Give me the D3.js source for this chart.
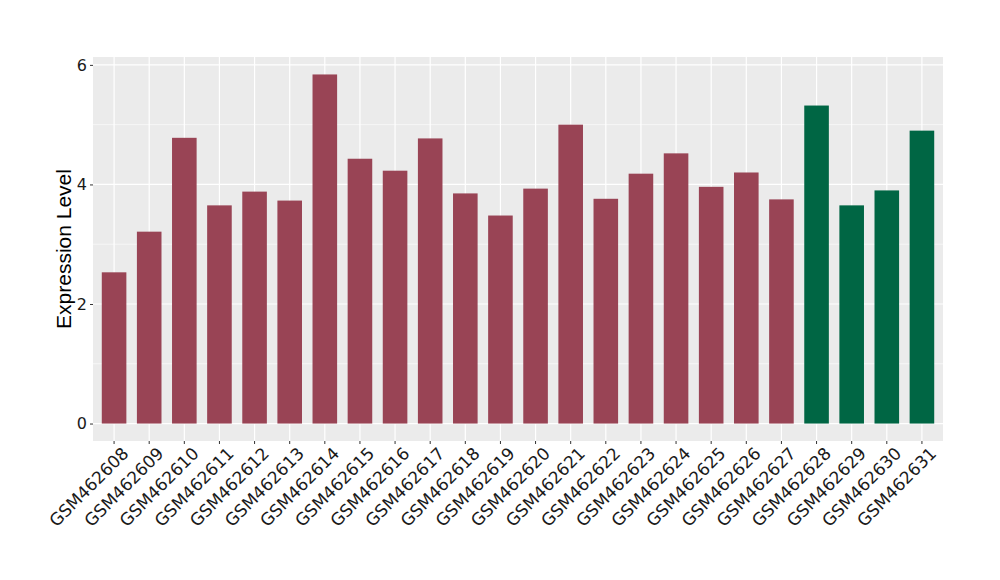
<!DOCTYPE html>
<html>
<head>
<meta charset="utf-8">
<script src="https://cdn.jsdelivr.net/npm/d3@7"></script>
<style>
  body { margin: 0; background: #fff; }
</style>
</head>
<body>
<div class="output"></div>
<script>
// samples and their expression values
const samples = ["GSM462608", "GSM462609", "GSM462610", "GSM462611", "GSM462612", "GSM462613",
    "GSM462614", "GSM462615", "GSM462616", "GSM462617", "GSM462618", "GSM462619",
    "GSM462620", "GSM462621", "GSM462622", "GSM462623", "GSM462624", "GSM462625",
    "GSM462626", "GSM462627", "GSM462628", "GSM462629", "GSM462630", "GSM462631"];
const values = [2.53, 3.21, 4.78, 3.65, 3.88, 3.73, 5.84, 4.43, 4.23, 4.77, 3.85, 3.48,
    3.93, 5.00, 3.76, 4.18, 4.52, 3.96, 4.20, 3.75, 5.32, 3.65, 3.90, 4.90];
const groups = ["a", "a", "a", "a", "a", "a", "a", "a", "a", "a", "a", "a",
    "a", "a", "a", "a", "a", "a", "a", "a", "b", "b", "b", "b"];
const yTicks = [0, 2, 4, 6];
const yMinor = [1, 3, 5];

const margin = {top: 57, right: 57, bottom: 139, left: 93};
const width = 1000 - margin.left - margin.right;
const height = 580 - margin.top - margin.bottom;

const color = (g) => g === "b" ? "#006644" : "#994455";

let svg = d3.select(".output")
    .append("svg")
    .attr("width", 1000)
    .attr("height", 580)
    .append("g")
    .attr("transform", "translate(" + margin.left + "," + margin.top + ")");

// panel
svg.append("rect")
    .attr("width", width)
    .attr("height", height)
    .attr("fill", "#EBEBEB");

// X scale (ggplot-like expansion of 0.6 on each side)
let step = width / (samples.length - 1 + 1.2);
let x = d3.scaleBand()
    .domain(samples)
    .range([0.1 * step, width - 0.1 * step])
    .paddingInner(0.3)
    .paddingOuter(0.15);

let y = d3.scaleLinear()
    .domain([-0.292, 6.132])
    .range([height, 0]);

// grid
svg.selectAll(".minor")
    .data(yMinor)
    .enter().append("line")
    .attr("x1", 0).attr("x2", width)
    .attr("y1", d => y(d)).attr("y2", d => y(d))
    .attr("stroke", "#fff").attr("stroke-width", 0.6);

svg.selectAll(".major")
    .data(yTicks)
    .enter().append("line")
    .attr("x1", 0).attr("x2", width)
    .attr("y1", d => y(d)).attr("y2", d => y(d))
    .attr("stroke", "#fff").attr("stroke-width", 1.2);

svg.selectAll(".vgrid")
    .data(samples)
    .enter().append("line")
    .attr("x1", d => x(d) + x.bandwidth() / 2)
    .attr("x2", d => x(d) + x.bandwidth() / 2)
    .attr("y1", 0).attr("y2", height)
    .attr("stroke", "#fff").attr("stroke-width", 1.2);

// bars
svg.selectAll(".bar")
    .data(samples)
    .enter().append("rect")
    .attr("x", d => x(d))
    .attr("width", x.bandwidth())
    .attr("y", (d, i) => y(values[i]))
    .attr("height", (d, i) => y(0) - y(values[i]))
    .attr("fill", (d, i) => color(groups[i]));

// Y axis
let yAxis = svg.append("g")
    .call(d3.axisLeft(y).tickValues(yTicks).tickFormat(d3.format("d")).tickSize(3).tickPadding(3));
yAxis.select(".domain").remove();
yAxis.selectAll("line").attr("stroke", "#333");
yAxis.selectAll("text")
    .style("font-family", "'DejaVu Sans', sans-serif")
    .style("font-size", "16px")
    .attr("fill", "#1a1a1a");

// X axis
let xAxis = svg.append("g")
    .attr("transform", "translate(0," + height + ")")
    .call(d3.axisBottom(x).tickSize(3));
xAxis.select(".domain").remove();
xAxis.selectAll("line").attr("stroke", "#333");
xAxis.selectAll("text")
    .style("font-family", "'DejaVu Sans', sans-serif")
    .style("font-size", "17px")
    .attr("fill", "#1a1a1a")
    .attr("text-anchor", "end")
    .attr("y", 0)
    .attr("dy", "0.71em")
    .attr("transform", "translate(7,5) rotate(-45)");

// Y title
svg.append("text")
    .text("Expression Level")
    .attr("transform", "translate(-22," + (height / 2) + ") rotate(-90)")
    .attr("text-anchor", "middle")
    .style("font-family", "'Liberation Sans', Arial, sans-serif")
    .style("font-size", "21px")
    .attr("fill", "#000");
</script>
</body>
</html>
